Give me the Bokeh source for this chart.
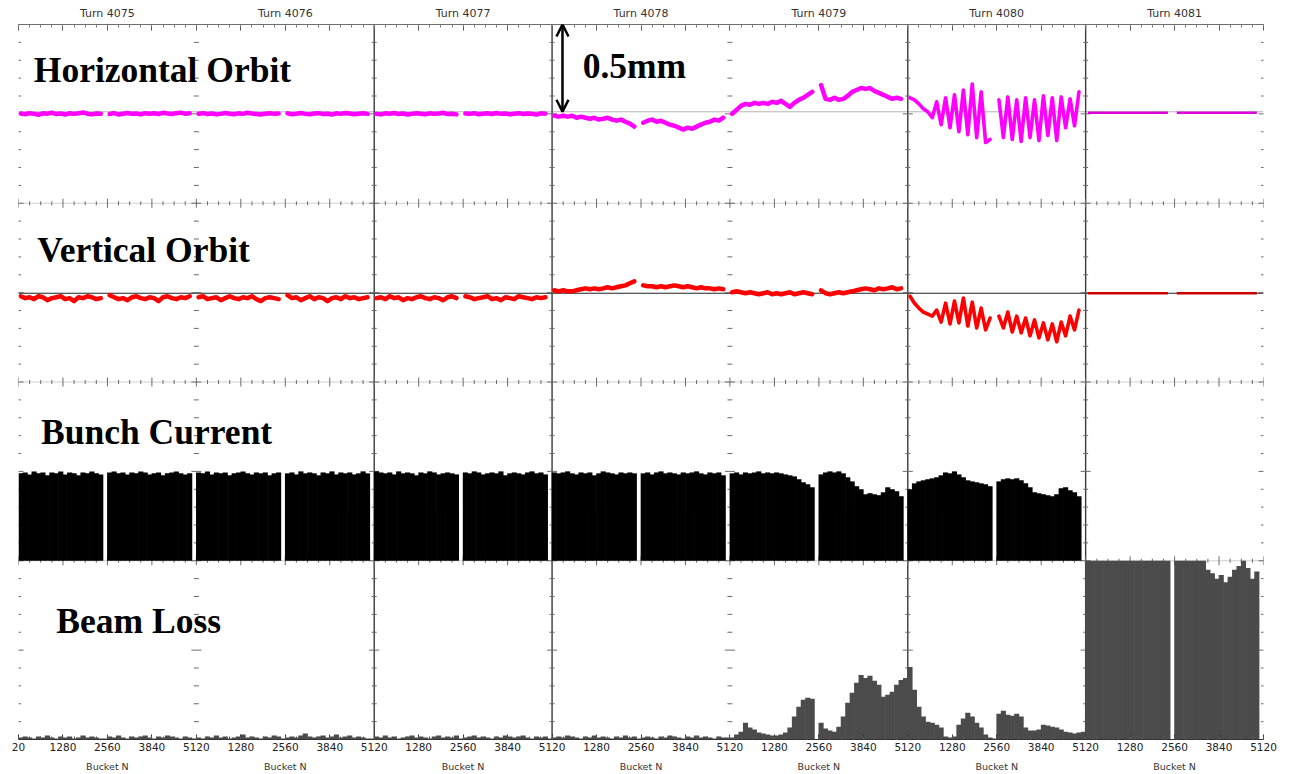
import numpy as np
from bokeh.plotting import figure
from bokeh.models import (Range1d, LinearAxis, FixedTicker, Span, Label, Arrow,
                          OpenHead, ColumnDataSource)
from bokeh.embed import file_html
from bokeh.resources import INLINE

# ---------------- data ----------------
turns = [4075, 4076, 4077, 4078, 4079, 4080, 4081]
buckets_per_turn = 5120
samples_per_turn = 40          # one sample every 128 buckets
bucket_tick_step = 1280
first_tick_label = "20"

# Horizontal orbit [mm], 40 samples per turn (None = no data)
h_orbit = [
    # 4075
    -0.010,-0.014,-0.008,-0.012,-0.017,-0.009,-0.011,-0.005,-0.013,-0.010,-0.016,-0.008,-0.012,-0.009,-0.004,-0.011,-0.015,-0.010,-0.012,None,
    -0.013,-0.008,-0.016,-0.011,-0.007,-0.012,-0.010,-0.015,-0.008,-0.011,-0.009,-0.013,-0.006,-0.010,-0.013,-0.008,-0.005,-0.011,-0.009,None,
    # 4076
    -0.011,-0.008,-0.013,-0.010,-0.015,-0.012,-0.007,-0.011,-0.014,-0.009,-0.012,-0.006,-0.010,-0.013,-0.016,-0.011,-0.008,-0.012,-0.010,None,
    -0.009,-0.014,-0.011,-0.007,-0.012,-0.015,-0.010,-0.008,-0.013,-0.011,-0.016,-0.009,-0.012,-0.007,-0.010,-0.014,-0.011,-0.008,-0.012,None,
    # 4077
    -0.012,-0.015,-0.009,-0.011,-0.007,-0.013,-0.010,-0.016,-0.012,-0.008,-0.011,-0.014,-0.009,-0.012,-0.010,-0.006,-0.013,-0.011,-0.015,None,
    -0.010,-0.012,-0.008,-0.014,-0.011,-0.009,-0.013,-0.007,-0.012,-0.010,-0.015,-0.011,-0.008,-0.013,-0.010,-0.012,-0.016,-0.009,-0.011,None,
    # 4078
    -0.023,-0.028,-0.023,-0.028,-0.023,-0.034,-0.028,-0.034,-0.040,-0.034,-0.045,-0.040,-0.034,-0.045,-0.051,-0.045,-0.057,-0.068,-0.085,None,
    -0.063,-0.051,-0.045,-0.057,-0.051,-0.063,-0.074,-0.080,-0.091,-0.102,-0.091,-0.097,-0.085,-0.074,-0.063,-0.057,-0.045,-0.051,-0.034,None,
    # 4079
    -0.011,0.011,0.034,0.045,0.040,0.051,0.045,0.051,0.045,0.057,0.051,0.063,0.045,0.028,0.051,0.068,0.080,0.097,0.114,None,
    0.153,0.074,0.068,0.080,0.068,0.074,0.091,0.114,0.125,0.136,0.131,0.136,0.119,0.108,0.097,0.085,0.074,0.080,0.074,None,
    # 4080
    0.080,0.068,0.045,0.017,0.000,-0.034,0.057,-0.074,0.080,-0.091,0.097,-0.114,0.125,-0.131,0.159,-0.148,0.114,-0.176,-0.159,None,
    0.068,-0.148,0.085,-0.159,0.068,-0.170,0.080,-0.148,0.068,-0.165,0.091,-0.136,0.080,-0.165,0.085,-0.091,0.074,-0.080,0.114,None,
    # 4081
    -0.006,-0.006,-0.006,-0.006,-0.006,-0.006,-0.006,-0.006,-0.006,-0.006,-0.006,-0.006,-0.006,-0.006,-0.006,-0.006,-0.006,-0.006,-0.006,None,
    -0.006,-0.006,-0.006,-0.006,-0.006,-0.006,-0.006,-0.006,-0.006,-0.006,-0.006,-0.006,-0.006,-0.006,-0.006,-0.006,-0.006,-0.006,-0.006,None,
]

# Vertical orbit [mm]
v_orbit = [
    # 4075
    -0.017,-0.028,-0.023,-0.034,-0.017,-0.023,-0.040,-0.028,-0.023,-0.017,-0.034,-0.028,-0.045,-0.023,-0.028,-0.017,-0.023,-0.034,-0.028,None,
    -0.011,-0.023,-0.034,-0.028,-0.040,-0.023,-0.017,-0.028,-0.034,-0.023,-0.028,-0.045,-0.023,-0.017,-0.028,-0.034,-0.023,-0.028,-0.017,None,
    # 4076
    -0.023,-0.017,-0.034,-0.028,-0.023,-0.040,-0.028,-0.017,-0.028,-0.034,-0.023,-0.028,-0.017,-0.034,-0.045,-0.028,-0.023,-0.028,-0.034,None,
    -0.011,-0.028,-0.023,-0.040,-0.028,-0.017,-0.034,-0.023,-0.028,-0.045,-0.028,-0.023,-0.034,-0.017,-0.028,-0.023,-0.034,-0.028,-0.023,None,
    # 4077
    -0.028,-0.023,-0.034,-0.017,-0.028,-0.023,-0.040,-0.028,-0.034,-0.023,-0.017,-0.028,-0.034,-0.023,-0.028,-0.040,-0.023,-0.017,-0.028,None,
    -0.017,-0.023,-0.034,-0.028,-0.023,-0.017,-0.034,-0.028,-0.040,-0.023,-0.028,-0.034,-0.017,-0.023,-0.028,-0.034,-0.023,-0.028,-0.023,None,
    # 4078
    0.017,0.011,0.017,0.011,0.011,0.017,0.023,0.028,0.023,0.028,0.023,0.028,0.034,0.028,0.034,0.040,0.045,0.057,0.068,None,
    0.045,0.040,0.040,0.034,0.040,0.034,0.040,0.045,0.040,0.034,0.040,0.034,0.028,0.034,0.028,0.028,0.023,0.028,0.023,None,
    # 4079
    0.006,0.011,0.006,0.000,0.006,0.000,-0.006,0.000,0.006,-0.006,0.000,-0.006,0.000,0.006,-0.006,0.000,0.006,0.000,-0.006,None,
    0.017,0.000,-0.006,0.000,0.006,0.000,0.006,0.011,0.017,0.023,0.028,0.023,0.017,0.028,0.023,0.028,0.034,0.023,0.028,None,
    # 4080
    -0.017,-0.057,-0.085,-0.108,-0.119,-0.131,-0.097,-0.165,-0.057,-0.176,-0.045,-0.170,-0.028,-0.188,-0.051,-0.199,-0.085,-0.210,-0.142,None,
    -0.131,-0.199,-0.108,-0.222,-0.131,-0.227,-0.142,-0.244,-0.153,-0.256,-0.170,-0.267,-0.176,-0.278,-0.165,-0.244,-0.131,-0.210,-0.097,None,
    # 4081
    0.000,0.000,0.000,0.000,0.000,0.000,0.000,0.000,0.000,0.000,0.000,0.000,0.000,0.000,0.000,0.000,0.000,0.000,0.000,None,
    0.000,0.000,0.000,0.000,0.000,0.000,0.000,0.000,0.000,0.000,0.000,0.000,0.000,0.000,0.000,0.000,0.000,0.000,0.000,None,
]

# Bunch current [fraction of panel height]
bunch_current = [
    # 4075
    0.489,0.494,0.483,0.500,0.489,0.494,0.478,0.494,0.489,0.500,0.483,0.494,0.489,0.478,0.494,0.489,0.500,0.489,0.483,0,
    0.494,0.500,0.489,0.494,0.483,0.494,0.489,0.500,0.494,0.483,0.489,0.494,0.478,0.489,0.494,0.500,0.489,0.483,0.489,0,
    # 4076
    0.494,0.489,0.500,0.483,0.494,0.489,0.494,0.478,0.489,0.494,0.500,0.489,0.483,0.494,0.489,0.494,0.478,0.489,0.494,0,
    0.489,0.494,0.483,0.500,0.489,0.494,0.489,0.478,0.494,0.489,0.500,0.483,0.494,0.489,0.494,0.483,0.489,0.500,0.489,0,
    # 4077
    0.500,0.494,0.489,0.494,0.483,0.500,0.489,0.494,0.489,0.478,0.494,0.489,0.500,0.494,0.483,0.489,0.494,0.489,0.483,0,
    0.494,0.489,0.500,0.494,0.483,0.489,0.494,0.489,0.500,0.478,0.489,0.494,0.489,0.483,0.494,0.500,0.489,0.494,0.483,0,
    # 4078
    0.494,0.489,0.494,0.500,0.489,0.483,0.494,0.489,0.494,0.478,0.489,0.500,0.494,0.489,0.483,0.494,0.489,0.494,0.489,0,
    0.489,0.494,0.483,0.494,0.500,0.489,0.494,0.489,0.483,0.494,0.489,0.494,0.500,0.489,0.483,0.494,0.489,0.494,0.478,0,
    # 4079
    0.489,0.494,0.483,0.494,0.489,0.494,0.500,0.489,0.494,0.489,0.494,0.489,0.483,0.478,0.472,0.456,0.439,0.428,0.411,0,
    0.483,0.494,0.500,0.494,0.500,0.489,0.467,0.444,0.417,0.400,0.372,0.378,0.372,0.367,0.383,0.411,0.400,0.389,0.361,0,
    # 4080
    0.400,0.433,0.444,0.450,0.456,0.461,0.467,0.478,0.494,0.489,0.500,0.483,0.467,0.450,0.444,0.439,0.433,0.428,0.417,0,
    0.444,0.456,0.461,0.456,0.461,0.450,0.433,0.411,0.383,0.378,0.372,0.367,0.361,0.372,0.406,0.411,0.394,0.383,0.361,0,
    # 4081
    0,0,0,0,0,0,0,0,0,0,0,0,0,0,0,0,0,0,0,0,
    0,0,0,0,0,0,0,0,0,0,0,0,0,0,0,0,0,0,0,0,
]

# Beam loss [fraction of panel height]
beam_loss = [
    # 4075
    0.011,0.017,0.011,0.006,0.017,0.011,0.022,0.011,0.006,0.017,0.011,0.017,0.006,0.011,0.022,0.011,0.017,0.011,0.006,0.006,
    0.017,0.011,0.022,0.011,0.006,0.017,0.011,0.017,0.022,0.011,0.006,0.017,0.011,0.022,0.017,0.011,0.006,0.017,0.011,0.006,
    # 4076
    0.011,0.006,0.017,0.011,0.022,0.011,0.017,0.006,0.011,0.017,0.028,0.011,0.017,0.011,0.006,0.017,0.011,0.022,0.017,0.006,
    0.011,0.017,0.011,0.022,0.033,0.017,0.011,0.017,0.022,0.011,0.017,0.028,0.011,0.017,0.022,0.011,0.017,0.011,0.006,0.006,
    # 4077
    0.017,0.011,0.022,0.011,0.017,0.006,0.011,0.017,0.022,0.011,0.017,0.011,0.006,0.017,0.022,0.011,0.017,0.011,0.022,0.006,
    0.011,0.017,0.022,0.011,0.017,0.011,0.006,0.017,0.011,0.022,0.017,0.011,0.017,0.022,0.011,0.006,0.017,0.011,0.017,0.006,
    # 4078
    0.011,0.017,0.011,0.022,0.017,0.011,0.006,0.017,0.011,0.022,0.011,0.017,0.011,0.006,0.017,0.011,0.022,0.011,0.017,0.006,
    0.011,0.017,0.011,0.006,0.017,0.011,0.022,0.017,0.011,0.006,0.017,0.011,0.022,0.011,0.017,0.011,0.006,0.017,0.011,0.011,
    # 4079
    0.011,0.028,0.044,0.094,0.067,0.056,0.039,0.033,0.028,0.022,0.022,0.028,0.039,0.067,0.128,0.183,0.222,0.233,0.228,0,
    0.094,0.061,0.050,0.044,0.072,0.128,0.206,0.261,0.317,0.361,0.344,0.356,0.328,0.306,0.239,0.250,0.267,0.306,0.333,0.344,
    # 4080
    0.406,0.278,0.183,0.128,0.100,0.094,0.083,0.067,0.017,0.011,0.017,0.083,0.117,0.150,0.128,0.094,0.067,0.028,0.011,0.006,
    0.144,0.161,0.139,0.133,0.144,0.128,0.067,0.050,0.050,0.056,0.083,0.078,0.072,0.067,0.056,0.044,0.039,0.033,0.039,0.044,
    # 4081
    1.0,1.0,1.0,1.0,1.0,1.0,1.0,1.0,1.0,1.0,1.0,1.0,1.0,1.0,1.0,1.0,1.0,1.0,1.0,0,
    1.0,1.0,1.0,1.0,1.0,1.0,1.0,0.95,0.93,0.90,0.92,0.88,0.91,0.95,0.97,1.0,0.96,0.90,0.94,0,
]

# ---------------- layout constants ----------------
W, H = 1297, 774
LEFT, RIGHT, TOP, BOTTOM = 18, 34, 24, 29
frame_h = H - TOP - BOTTOM            # 721
px_per_mm = 176.0                      # 0.5 mm arrow = 88 px
h_zero_from_top = 88.0
v_zero_from_top = 271.0
n_turns = len(turns)
x_max = n_turns * buckets_per_turn
step = buckets_per_turn // samples_per_turn

p = figure(width=W, height=H, output_backend="svg", toolbar_location=None,
           x_axis_location=None, y_axis_location=None,
           x_range=Range1d(0, x_max), y_range=Range1d(0, 4),
           min_border_left=LEFT, min_border_right=RIGHT,
           min_border_top=TOP, min_border_bottom=BOTTOM,
           background_fill_color="white", border_fill_color="white",
           outline_line_color=None)
p.xgrid.visible = False
p.ygrid.visible = False

h_end = h_zero_from_top / px_per_mm
v_end = v_zero_from_top / px_per_mm
p.extra_y_ranges = {
    "h": Range1d(h_end - frame_h / px_per_mm, h_end),
    "v": Range1d(v_end - frame_h / px_per_mm, v_end),
    "c": Range1d(-1, 3),
    "l": Range1d(0, 4),
}

x = np.arange(n_turns * samples_per_turn) * step + step / 2
h = np.array(h_orbit, dtype=float)
v = np.array(v_orbit, dtype=float)
c = np.array(bunch_current, dtype=float)
l = np.array(beam_loss, dtype=float)

# ---------------- grid-like decorations ----------------
for k in (1, 2, 3):
    p.add_layout(Span(location=k, dimension="width", line_color="#cfcfcf",
                      line_width=1, level="underlay"))
p.add_layout(Span(location=0, dimension="width", y_range_name="h",
                  line_color="#b4b4b4", line_width=1, level="underlay"))
p.add_layout(Span(location=0, dimension="width", y_range_name="v",
                  line_color="#222222", line_width=1.2, level="underlay"))
for k in (2, 3, 5, 6):
    p.add_layout(Span(location=k * buckets_per_turn, dimension="height",
                      line_color="#3a3a3a", line_width=1.4, level="underlay"))

major_ticks = list(range(0, x_max + 1, bucket_tick_step))
minor_ticks = [t for t in range(0, x_max + 1, bucket_tick_step // 4)]

# small tick marks on panel separators
tx, ty, ts = [], [], []
for row in (1, 2, 3):
    for t in minor_ticks:
        tx.append(t); ty.append(row); ts.append(9 if t % bucket_tick_step == 0 else 4)
p.scatter(x="x", y="y", size="s", marker="dash", angle=np.pi / 2,
          line_color="#6a6a6a", line_width=1,
          source=ColumnDataSource(dict(x=tx, y=ty, s=ts)))
bx, by, bs = [], [], []
for k in range(n_turns + 1):
    for j in range(1, 40):
        bx.append(k * buckets_per_turn); by.append(j / 10)
        bs.append(10 if j % 5 == 0 else 5)
p.scatter(x="x", y="y", size="s", marker="dash", line_color="#6a6a6a",
          line_width=1, source=ColumnDataSource(dict(x=bx, y=by, s=bs)))

# ---------------- data glyphs ----------------
bar_w = step * 1.15   # slight overlap so neighbouring bars render as one mass
p.vbar(x=x, width=bar_w, top=c, bottom=0, y_range_name="c",
       fill_color="black", line_color=None)
p.vbar(x=x, width=bar_w, top=l, bottom=0, y_range_name="l",
       fill_color="#4b4b4b", line_color=None)

a, b = 5 * samples_per_turn, 6 * samples_per_turn
p.line(x[:a], h[:a], y_range_name="h", line_color="#ff00ff", line_width=4.5,
       line_join="round", line_cap="round")
p.line(x[a:b], h[a:b], y_range_name="h", line_color="#ff00ff", line_width=3.6,
       line_join="round", line_cap="round")
p.line(x[b:], h[b:], y_range_name="h", line_color="#dd00dd", line_width=2.6)
p.line(x[:a], v[:a], y_range_name="v", line_color="#ff0000", line_width=4.5,
       line_join="round", line_cap="round")
p.line(x[a:b], v[a:b], y_range_name="v", line_color="#ff0000", line_width=3.6,
       line_join="round", line_cap="round")
p.line(x[b:], v[b:], y_range_name="v", line_color="#cc0000", line_width=2.6)

# ---------------- axes ----------------
top_ax = LinearAxis(ticker=FixedTicker(ticks=major_ticks, minor_ticks=minor_ticks))
top_over = {}
for t in major_ticks:
    if (t - buckets_per_turn // 2) % buckets_per_turn == 0:
        top_over[t] = "Turn %d" % turns[t // buckets_per_turn]
    else:
        top_over[t] = ""
top_ax.major_label_overrides = top_over
top_ax.axis_line_color = "#6e6e6e"
top_ax.major_tick_in, top_ax.major_tick_out = 6, 0
top_ax.minor_tick_in, top_ax.minor_tick_out = 3, 0
top_ax.major_tick_line_color = "#555555"
top_ax.minor_tick_line_color = "#777777"
top_ax.major_label_text_font = "DejaVu Sans"
top_ax.major_label_text_font_size = "11px"
top_ax.major_label_text_color = "#333333"
top_ax.major_label_standoff = 5
p.add_layout(top_ax, "above")

bot_ax = LinearAxis(ticker=FixedTicker(ticks=major_ticks, minor_ticks=minor_ticks))
bot_over = {}
for t in major_ticks:
    if t == 0:
        bot_over[t] = first_tick_label
    else:
        bot_over[t] = str(((t - 1) % buckets_per_turn) + 1)
bot_ax.major_label_overrides = bot_over
bot_ax.axis_line_color = "#333333"
bot_ax.axis_line_width = 1.2
bot_ax.major_tick_in, bot_ax.major_tick_out = 5, 0
bot_ax.minor_tick_in, bot_ax.minor_tick_out = 3, 0
bot_ax.major_tick_line_color = "#333333"
bot_ax.minor_tick_line_color = "#555555"
bot_ax.major_label_text_font = "DejaVu Sans"
bot_ax.major_label_text_font_size = "10.5px"
bot_ax.major_label_text_color = "#222222"
bot_ax.major_label_standoff = 3
p.add_layout(bot_ax, "below")

centers = [k * buckets_per_turn + buckets_per_turn // 2 for k in range(n_turns)]
name_ax = LinearAxis(ticker=FixedTicker(ticks=centers, minor_ticks=[]))
name_ax.major_label_overrides = {cc: "Bucket N" for cc in centers}
name_ax.axis_line_color = None
name_ax.major_tick_line_color = None
name_ax.minor_tick_line_color = None
name_ax.major_label_text_font = "DejaVu Sans"
name_ax.major_label_text_font_size = "9.5px"
name_ax.major_label_text_color = "#333333"
name_ax.major_label_standoff = 1
p.add_layout(name_ax, "below")

# ---------------- annotations ----------------
def lab(text, xb, yv, rng):
    p.add_layout(Label(x=xb, y=yv, y_range_name=rng, text=text,
                       text_font="Liberation Serif", text_font_style="bold",
                       text_font_size="35.5px", text_color="black",
                       text_baseline="alphabetic", text_align="left"))

lab("Horizontal Orbit", 440, 0.240, "h")
lab("Vertical Orbit", 540, 0.250, "v")
lab("Bunch Current", 650, 0.722, "c")
lab("Beam Loss", 1090, 0.662, "l")
lab("0.5mm", 16240, 0.262, "h")

arrow_x = 3 * buckets_per_turn + 300
p.add_layout(Arrow(start=OpenHead(size=12, line_width=2.5, line_color="black"),
                   end=OpenHead(size=12, line_width=2.5, line_color="black"),
                   x_start=arrow_x, y_start=0.0, x_end=arrow_x, y_end=0.5,
                   y_range_name="h", line_width=2.5, line_color="black"))

open("out.html", "w").write(file_html(p, INLINE))
